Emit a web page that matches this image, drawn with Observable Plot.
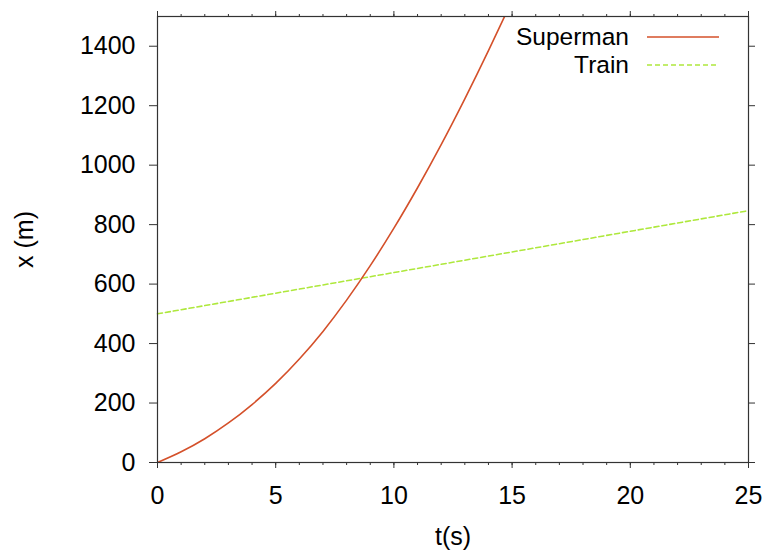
<!DOCTYPE html>
<html>
<head>
<meta charset="utf-8">
<script src="https://cdn.jsdelivr.net/npm/d3@7"></script>
<script src="https://cdn.jsdelivr.net/npm/@observablehq/plot@0.6"></script>
<style>
  html, body { margin: 0; padding: 0; background: #fff; }
  #wrap { position: relative; width: 766px; height: 551px; font-family: "Liberation Sans", Arial, Helvetica, sans-serif; }
  #legend { position: absolute; left: 0; top: 0; width: 766px; height: 80px; pointer-events: none; }
  .lg-row { position: absolute; display: flex; align-items: center; height: 26px; }
  .lg-label { font-size: 24.5px; color: #000; text-align: right; width: 200px; line-height: 26px; }
</style>
</head>
<body>
<div id="wrap"></div>
<script>
// ---- data ----
const supermanT = [0, 1, 2, 3, 4, 5, 6, 7, 8, 9, 10, 11, 12, 13, 14, 14.68];
const supermanX = [0, 36, 80, 133, 195, 266, 348, 441, 546, 662, 788, 924, 1069, 1223, 1385, 1500];
const trainT = [0, 25];
const trainX = [500, 847];
const seriesNames = ["Superman", "Train"];
const seriesColors = ["#d4502a", "#aee83c"];
const xTicks = [0, 5, 10, 15, 20, 25];
const xMinorTicks = d3.range(0, 26, 1);
const yTicks = [0, 200, 400, 600, 800, 1000, 1200, 1400];

const superman = supermanT.map((t, i) => ({t, x: supermanX[i]}));
const train = trainT.map((t, i) => ({t, x: trainX[i]}));

const font = "Liberation Sans, Arial, Helvetica, sans-serif";
const axisColor = "#333";

const chart = Plot.plot({
  width: 766,
  height: 551,
  marginLeft: 157,
  marginRight: 18,
  marginTop: 16,
  marginBottom: 89,
  style: {fontFamily: font, fontSize: "25px", color: "#000", background: "#fff"},
  x: {domain: [0, 25]},
  y: {domain: [0, 1500]},
  marks: [
    Plot.line(train, {x: "t", y: "x", stroke: seriesColors[1], strokeWidth: 1.6, strokeDasharray: "5,3"}),
    Plot.line(superman, {x: "t", y: "x", stroke: seriesColors[0], strokeWidth: 1.6, curve: "monotone-x", clip: true}),
    // minor ticks bottom & top
    Plot.axisX({ticks: xMinorTicks, tickSize: 3, text: null, label: null, stroke: axisColor, anchor: "bottom"}),
    Plot.axisX({ticks: xMinorTicks, tickSize: 3, text: null, label: null, stroke: axisColor, anchor: "top"}),
    // major ticks
    Plot.axisX({ticks: xTicks, tickSize: 6, tickPadding: 18, fontSize: 25, tickFormat: d => String(d), label: "t(s)", labelAnchor: "center", labelArrow: "none", labelOffset: 82, stroke: axisColor, anchor: "bottom"}),
    Plot.axisX({ticks: xTicks, tickSize: 6, text: null, label: null, stroke: axisColor, anchor: "top"}),
    Plot.axisY({ticks: yTicks, tickSize: 8, tickPadding: 14, fontSize: 25, tickFormat: d => String(d), label: "x (m)", labelAnchor: "center", labelArrow: "none", labelOffset: 142, stroke: axisColor, anchor: "left"}),
    Plot.axisY({ticks: yTicks, tickSize: 6, text: null, label: null, stroke: axisColor, anchor: "right"}),
    Plot.frame({stroke: axisColor, strokeWidth: 1.2})
  ]
});

const wrap = document.getElementById("wrap");
wrap.appendChild(chart);

// legend overlay (inside plot, top-right)
const legend = document.createElement("div");
legend.id = "legend";
const rowsTop = [24, 52];
seriesNames.forEach((name, i) => {
  const row = document.createElement("div");
  row.className = "lg-row";
  row.style.left = "429px";
  row.style.top = rowsTop[i] + "px";
  const lab = document.createElement("div");
  lab.className = "lg-label";
  lab.textContent = name;
  row.appendChild(lab);
  const svgNS = "http://www.w3.org/2000/svg";
  const sw = document.createElementNS(svgNS, "svg");
  sw.setAttribute("width", "110");
  sw.setAttribute("height", "26");
  const ln = document.createElementNS(svgNS, "line");
  ln.setAttribute("x1", "18");
  ln.setAttribute("x2", "90");
  ln.setAttribute("y1", "13");
  ln.setAttribute("y2", "13");
  ln.setAttribute("stroke", seriesColors[i]);
  ln.setAttribute("stroke-width", "1.6");
  if (i === 1) ln.setAttribute("stroke-dasharray", "5,3");
  sw.appendChild(ln);
  row.appendChild(sw);
  legend.appendChild(row);
});
wrap.appendChild(legend);
</script>
</body>
</html>
